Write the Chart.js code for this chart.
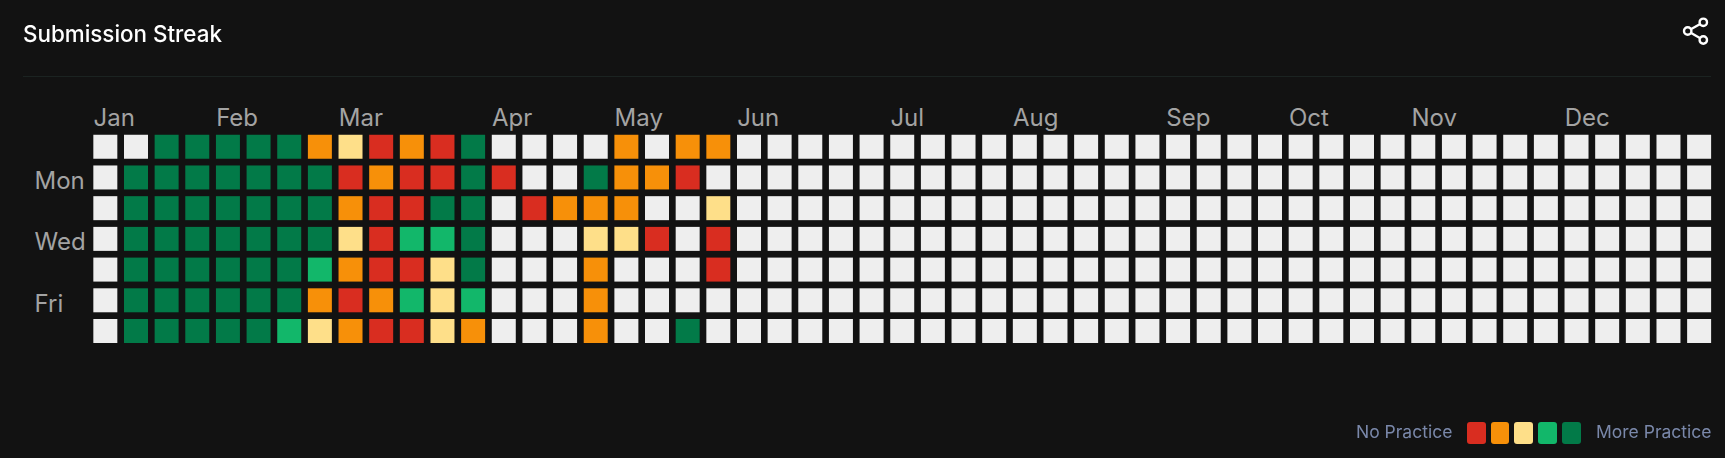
<!DOCTYPE html>
<html>
<head>
<meta charset="utf-8">
<title>Submission Streak</title>
<script src="https://cdn.jsdelivr.net/npm/chart.js@4/dist/chart.umd.min.js"></script>
<style>
html,body{margin:0;padding:0;background:#121212;width:1725px;height:458px;overflow:hidden;font-family:Inter,sans-serif}
#wrap{position:relative;width:1725px;height:458px}
#c{position:absolute;left:0;top:0}
#title{position:absolute;left:23px;top:20px;font-size:22.4px;line-height:28px;font-weight:550;color:#fff}
#rule{position:absolute;left:23px;top:76px;width:1688px;height:1px;background:#1b2321}
#share{position:absolute;left:1680px;top:14px}
.lg{position:absolute;top:420px;font-size:17.5px;line-height:24px;color:#7a88aa;white-space:nowrap}
.sw{position:absolute;top:422px;height:22px;border-radius:3px}
</style>
</head>
<body>
<div id="wrap">
<canvas id="c" width="1725" height="458"></canvas>
<div id="title">Submission Streak</div>
<div id="rule"></div>
<svg id="share" width="32" height="34" viewBox="0 0 32 34" fill="none" stroke="#fff" stroke-width="2.4">
<line x1="7.7" y1="17" x2="23.3" y2="8.3"/><line x1="7.7" y1="17" x2="23.3" y2="26"/>
<circle cx="7.7" cy="17" r="3.7" fill="#121212"/><circle cx="23.3" cy="8.3" r="3.7" fill="#121212"/><circle cx="23.3" cy="26" r="3.7" fill="#121212"/>
</svg>
<div class="lg" style="left:1356px">No Practice</div>
<div class="sw" style="left:1467px;width:19px;background:#D92D20"></div>
<div class="sw" style="left:1491px;width:18px;background:#F79009"></div>
<div class="sw" style="left:1514px;width:19px;background:#FEDF89"></div>
<div class="sw" style="left:1538px;width:19px;background:#12B76A"></div>
<div class="sw" style="left:1562px;width:19px;background:#027A48"></div>
<div class="lg" style="left:1596px">More Practice</div>
</div>
<script>
const monthNames = ["Jan","Feb","Mar","Apr","May","Jun","Jul","Aug","Sep","Oct","Nov","Dec"];
const monthWeeks = [0,4,8,13,17,21,26,30,35,39,43,48];
const dayNames = ["Mon","Wed","Fri"];
const dayRows = [1,3,5];
const levelColors = ["#EEEEEE","#D92D20","#F79009","#FEDF89","#12B76A","#027A48"];

// practice level per week (0 = none, 1..5 = legend steps), one list per weekday row
const row0 = [0,0,5,5,5,5,5,2,3,1,2,1,5,0,0,0,0,2,0,2,2,0,0,0,0,0,0,0,0,0,0,0,0,0,0,0,0,0,0,0,0,0,0,0,0,0,0,0,0,0,0,0,0];
const row1 = [0,5,5,5,5,5,5,5,1,2,1,1,5,1,0,0,5,2,2,1,0,0,0,0,0,0,0,0,0,0,0,0,0,0,0,0,0,0,0,0,0,0,0,0,0,0,0,0,0,0,0,0,0];
const row2 = [0,5,5,5,5,5,5,5,2,1,1,5,5,0,1,2,2,2,0,0,3,0,0,0,0,0,0,0,0,0,0,0,0,0,0,0,0,0,0,0,0,0,0,0,0,0,0,0,0,0,0,0,0];
const row3 = [0,5,5,5,5,5,5,5,3,1,4,4,5,0,0,0,3,3,1,0,1,0,0,0,0,0,0,0,0,0,0,0,0,0,0,0,0,0,0,0,0,0,0,0,0,0,0,0,0,0,0,0,0];
const row4 = [0,5,5,5,5,5,5,4,2,1,1,3,5,0,0,0,2,0,0,0,1,0,0,0,0,0,0,0,0,0,0,0,0,0,0,0,0,0,0,0,0,0,0,0,0,0,0,0,0,0,0,0,0];
const row5 = [0,5,5,5,5,5,5,2,1,2,4,3,4,0,0,0,2,0,0,0,0,0,0,0,0,0,0,0,0,0,0,0,0,0,0,0,0,0,0,0,0,0,0,0,0,0,0,0,0,0,0,0,0];
const row6 = [0,5,5,5,5,5,4,3,2,1,1,3,2,0,0,0,2,0,0,5,0,0,0,0,0,0,0,0,0,0,0,0,0,0,0,0,0,0,0,0,0,0,0,0,0,0,0,0,0,0,0,0,0];
const rows = [row0,row1,row2,row3,row4,row5,row6];

const BG = "#121212";
const canvas = document.getElementById("c");
canvas.getContext("2d", {alpha:false});
const tickFont = {family:"Inter", size:24, weight:"400"};
const tickColor = "#a3a3a3";

const datasets = rows.map((vals, r) => ({
  label: "Row " + r,
  data: vals.map((level, w) => ({x:w, y:r, level})),
  pointStyle: "rect",
  pointRadius: 12 / Math.SQRT1_2,
  pointHoverRadius: 12 / Math.SQRT1_2,
  pointBorderWidth: 0,
  pointHoverBorderWidth: 0,
  pointBackgroundColor: ctx => levelColors[ctx.raw ? ctx.raw.level : 0],
  pointHoverBackgroundColor: ctx => levelColors[ctx.raw ? ctx.raw.level : 0],
  clip: false
}));

new Chart(canvas, {
  type: "scatter",
  data: {datasets},
  plugins: [{id:"bg", beforeDraw(chart){const c=chart.ctx;c.save();c.fillStyle=BG;c.fillRect(0,0,chart.width,chart.height);c.restore();}}],
  options: {
    responsive: false,
    animation: false,
    layout: {autoPadding:false, padding: {left:34.5, right:10.55, top:0, bottom:111.64}},
    plugins: {legend:{display:false}, title:{display:false},
      tooltip:{callbacks:{label:c=>"Level "+c.raw.level}}},
    scales: {
      x: {
        type:"linear", position:"top", min:-0.5, max:52.5,
        grid:{display:false, drawTicks:false}, border:{display:false},
        afterFit(s){s.height=131.4;},
        afterBuildTicks(s){s.ticks = monthWeeks.map(v=>({value:v}));},
        ticks:{
          autoSkip:false, maxRotation:0, minRotation:0, align:"start", labelOffset:-11.8, padding:-2,
          color:tickColor, font:tickFont,
          callback:v=>monthNames[monthWeeks.indexOf(v)]
        }
      },
      y: {
        type:"linear", position:"left", min:-0.5, max:6.5, reverse:true,
        grid:{display:false, drawTicks:false}, border:{display:false},
        afterFit(s){s.width=55.5;},
        afterBuildTicks(s){s.ticks = dayRows.map(v=>({value:v}));},
        ticks:{
          autoSkip:false, crossAlign:"far", padding:0, labelOffset:4, color:tickColor, font:tickFont,
          callback:v=>dayNames[dayRows.indexOf(v)]
        }
      }
    }
  }
});
</script>
</body>
</html>
